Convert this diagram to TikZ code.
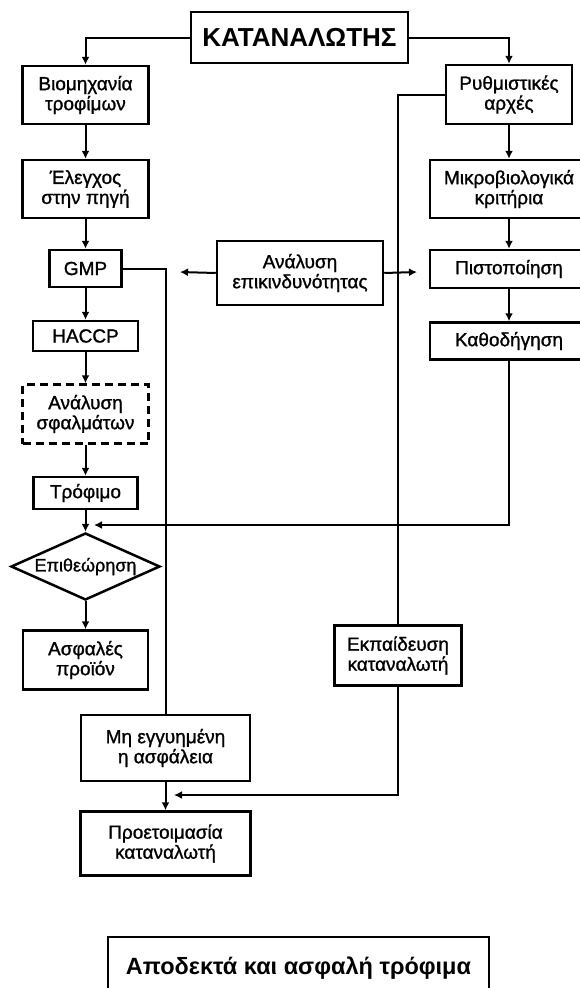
\documentclass[tikz,border=0pt]{standalone}
\usepackage{fontspec}
\setmainfont{Liberation Sans}
\newfontfamily\scanfont[FakeBold=1.2]{Liberation Sans}
\usetikzlibrary{arrows.meta,shapes.geometric}

\tikzset{
  box/.style={draw, line width=2.5pt, align=center, inner sep=0pt,
              font=\scanfont\fontsize{19}{20}\selectfont},
  dbox/.style={box, dash pattern=on 8pt off 5pt},
  headbox/.style={box, font=\bfseries\fontsize{26}{30}\selectfont},
  conn/.style={line width=2pt},
  arr/.style={conn, -{Latex[length=8pt,width=8pt]}},
}

\begin{document}
\begin{tikzpicture}[x=1pt,y=-1pt]
\useasboundingbox (0,0) rectangle (579,988);

% top
\node[headbox, minimum width=217pt, minimum height=51pt] (top) at (299.5,37.5) {ΚΑΤΑΝΑΛΩΤΗΣ};

% left column: industry chain
\node[box, minimum width=126pt, minimum height=58pt] (ind)   at (85.5,95)    {Βιομηχανία\\τροφίμων};
\node[box, minimum width=126pt, minimum height=58pt] (src)   at (85.5,189)   {Έλεγχος\\στην πηγή};
\node[box, minimum width=72pt,  minimum height=37pt] (gmp)   at (85.5,268.5) {GMP};
\node[box, minimum width=105pt, minimum height=30pt] (haccp) at (85.5,336)   {HACCP};
\node[dbox, minimum width=126pt, minimum height=59pt] (err)  at (85.5,414)   {Ανάλυση\\σφαλμάτων};
\node[box, minimum width=104pt, minimum height=32pt] (food)  at (85.5,493)   {Τρόφιμο};
\node[box, shape=diamond, shape aspect=2.2, minimum width=149pt, minimum height=67pt,
      font=\scanfont\fontsize{18}{19}\selectfont] (insp) at (85.5,566.5) {Επιθεώρηση};
\node[box, minimum width=125pt, minimum height=59pt] (safe)  at (85.5,660) {Ασφαλές\\προϊόν};
\node[box, minimum width=169pt, minimum height=66pt] (unsafe) at (165.5,748) {Μη εγγυημένη\\η ασφάλεια};
\node[box, minimum width=170pt, minimum height=64pt] (prep)  at (165.5,843.5) {Προετοιμασία\\καταναλωτή};

% middle
\node[box, minimum width=166pt, minimum height=64pt] (risk)  at (300,273)  {Ανάλυση\\επικινδυνότητας};

% right column: authorities
\node[box, minimum width=126pt, minimum height=59pt] (reg)   at (509,94.5) {Ρυθμιστικές\\αρχές};
\node[box, minimum width=158pt, minimum height=58pt] (micro) at (509,189)  {Μικροβιολογικά\\κριτήρια};
\node[box, minimum width=158pt, minimum height=38pt] (cert)  at (509,269)  {Πιστοποίηση};
\node[box, minimum width=158pt, minimum height=37pt] (guide) at (509,341)  {Καθοδήγηση};
\node[box, minimum width=127pt, minimum height=60pt] (edu)   at (398,655.5) {Εκπαίδευση\\καταναλωτή};

% bottom
\node[box, font=\bfseries\fontsize{23.5}{27}\selectfont, minimum width=381pt, minimum height=62pt] (final) at (298.5,968) {Αποδεκτά και ασφαλή τρόφιμα};

% free arrow ends
\coordinate (feedA) at (94,525);
\coordinate (feedB) at (174,795);
\coordinate (riskL) at (180,272);
\coordinate (riskR) at (417,272);

% connectors
\draw[arr] (top.west) -| (ind.north);
\draw[arr] (top.east) -| (reg.north);
\draw[arr] (ind) -- (src);
\draw[arr] (src) -- (gmp);
\draw[arr] (gmp) -- (haccp);
\draw[arr] (haccp) -- (err);
\draw[arr] (err) -- (food);
\draw[arr] (food) -- (insp);
\draw[arr] (insp) -- (safe);
\draw[conn] (gmp.east) -| (unsafe.north);
\draw[arr] (unsafe) -- (prep);

\draw[arr] (risk.west) -- (riskL);
\draw[arr] (risk.east) -- (riskR);

\draw[arr] (reg) -- (micro);
\draw[arr] (micro) -- (cert);
\draw[arr] (cert) -- (guide);
\draw[arr] (guide.south) |- (feedA);
\draw[conn] (reg.west) -| (edu.north);
\draw[arr] (edu.south) |- (feedB);
\end{tikzpicture}
\end{document}
